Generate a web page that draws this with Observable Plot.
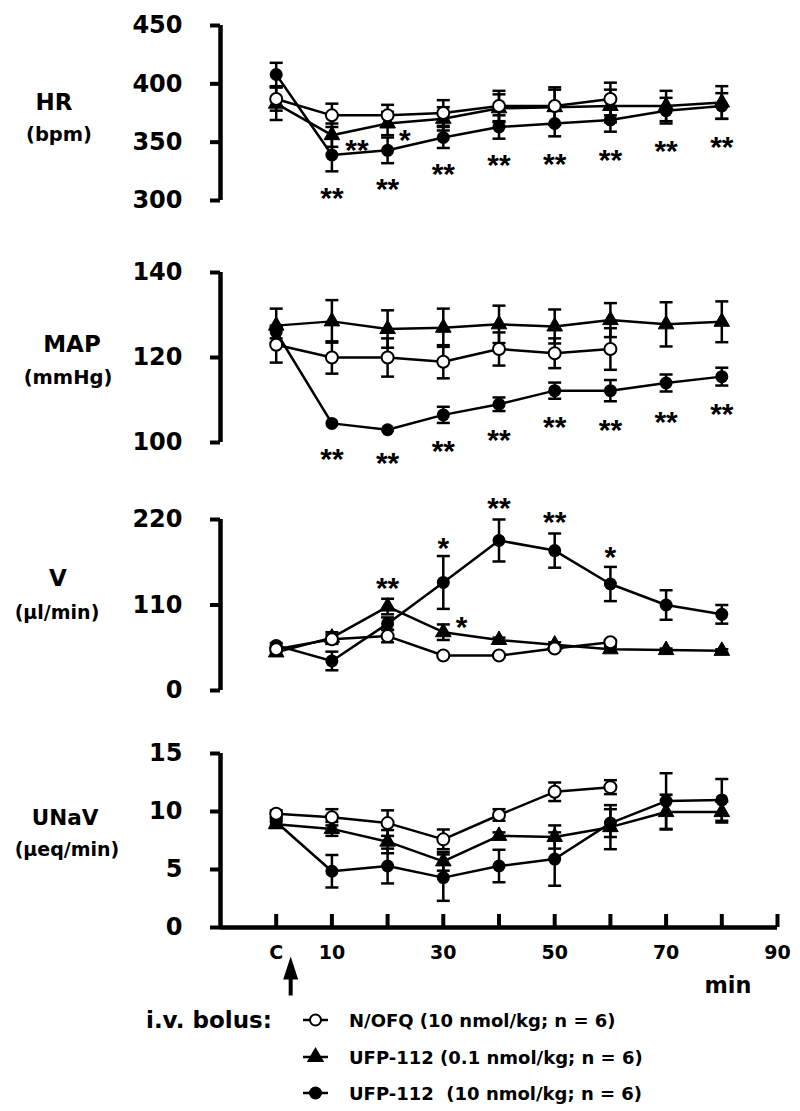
<!DOCTYPE html>
<html>
<head>
<meta charset="utf-8">
<script src="https://cdn.jsdelivr.net/npm/d3@7"></script>
<script src="https://cdn.jsdelivr.net/npm/@observablehq/plot@0.6"></script>
<style>
  body { margin: 0; background: #fff; }
  #chart { position: relative; width: 800px; height: 1111px; overflow: hidden; background: #fff; }
  #chart svg { position: absolute; left: 0; top: 0; }
</style>
</head>
<body>
<div id="chart"></div>
<script>
// ---------------- DATA ----------------
const times = [0, 10, 20, 30, 40, 50, 60, 70, 80];
const seriesKeys = ["nofq", "ufpLow", "ufpHigh"];
const legendLabels = ["N/OFQ (10 nmol/kg; n = 6)", "UFP-112 (0.1 nmol/kg; n = 6)", "UFP-112  (10 nmol/kg; n = 6)"];
const xTickValues = [0, 10, 20, 30, 40, 50, 60, 70, 80, 90];
const xLabelValues = [0, 10, 30, 50, 70, 90];
const xLabelText = ["C", "10", "30", "50", "70", "90"];
const xDomain = [-10, 90];
const bolusArrow = [{t: 2.6, level: 0}];

// HR (bpm)
const hrTicks = [300, 350, 400, 450];
const hrNofq = [387, 373, 373, 375, 381, 381, 387];
const hrNofqErr = [10, 10, 9, 11, 13, 16, 14];
const hrUfpLow = [383, 356, 366, 370, 379, 380, 381, 381, 384];
const hrUfpLowErr = [14, 10, 10, 10, 12, 15, 14, 13, 14];
const hrUfpHigh = [408, 339, 343, 354, 363, 366, 369, 377, 381];
const hrUfpHighErr = [10, 14, 11, 9, 10, 11, 10, 11, 11];
const hrStars = [
  {t: 10, y: 309, s: "**"}, {t: 14.5, y: 350, s: "**"}, {t: 20, y: 316, s: "**"},
  {t: 23.1, y: 358, s: "*"}, {t: 30, y: 329, s: "**"}, {t: 40, y: 337, s: "**"},
  {t: 50, y: 338, s: "**"}, {t: 60, y: 341, s: "**"}, {t: 70, y: 349, s: "**"}, {t: 80, y: 352, s: "**"}
];

// MAP (mmHg)
const mapTicks = [100, 120, 140];
const mapNofq = [123, 120, 120, 119, 122, 121, 122];
const mapNofqErr = [4.2, 3.8, 4.5, 3.9, 3.9, 3.5, 4.9];
const mapUfpLow = [127.5, 128.5, 126.7, 127, 127.8, 127.3, 128.8, 127.8, 128.4];
const mapUfpLowErr = [4, 5, 4.4, 4.5, 4.4, 4, 4, 5.2, 4.8];
const mapUfpHigh = [126, 104.5, 103, 106.5, 109, 112.2, 112.2, 114, 115.5];
const mapUfpHighErr = [1.5, 0, 0, 1.9, 1.6, 1.9, 2.5, 2, 2.1];
const mapStars = [
  {t: 10, y: 98, s: "**"}, {t: 20, y: 96.9, s: "**"}, {t: 30, y: 99.8, s: "**"}, {t: 40, y: 102.4, s: "**"},
  {t: 50, y: 105.5, s: "**"}, {t: 60, y: 104.7, s: "**"}, {t: 70, y: 106.7, s: "**"}, {t: 80, y: 108.4, s: "**"}
];

// V (µl/min)
const vTicks = [0, 110, 220];
const vNofq = [53, 66, 70, 45, 45, 54, 62];
const vNofqErr = [3, 6, 8, 2, 2, 3, 3];
const vUfpLow = [49, 68, 108, 75, 65, 59, 53, 52, 51];
const vUfpLowErr = [4, 7, 10, 10, 3, 3, 3, 2, 2];
const vUfpHigh = [58, 38, 86, 139, 193, 180, 137, 110, 98];
const vUfpHighErr = [3, 12, 8, 34, 27, 22, 22, 19, 12];
const vStars = [
  {t: 20, y: 142, s: "**"}, {t: 30, y: 193, s: "*"}, {t: 33.3, y: 92, s: "*"},
  {t: 40, y: 244, s: "**"}, {t: 50, y: 227, s: "**"}, {t: 60, y: 182, s: "*"}
];

// UNaV (µeq/min)
const uTicks = [0, 5, 10, 15];
const uNofq = [9.8, 9.5, 9.0, 7.6, 9.7, 11.7, 12.1];
const uNofqErr = [0.3, 0.7, 1.1, 0.85, 0.5, 0.8, 0.6];
const uUfpLow = [8.9, 8.5, 7.4, 5.7, 7.9, 7.8, 8.65, 9.95, 9.95];
const uUfpLowErr = [0.3, 0.6, 1.0, 0.8, 0.3, 1.0, 1.9, 1.5, 0.9];
const uUfpHigh = [9.1, 4.85, 5.3, 4.3, 5.3, 5.9, 9.0, 10.9, 11.0];
const uUfpHighErr = [0.3, 1.4, 1.5, 2.0, 1.4, 2.3, 1.2, 2.4, 1.8];
const uStars = [];

// ---------------- LAYOUT ----------------
const W = 800, H = 1111, ML = 220, MR = 23;
const FONT = "'DejaVu Sans', sans-serif";

function toRows(vals, errs, key) {
  return vals.map((v, i) => ({series: key, t: times[i], v, e: errs[i]}));
}

const panels = [
  {top: 25, bottom: 200, ticks: hrTicks, stars: hrStars,
   rows: [...toRows(hrNofq, hrNofqErr, "nofq"), ...toRows(hrUfpLow, hrUfpLowErr, "ufpLow"), ...toRows(hrUfpHigh, hrUfpHighErr, "ufpHigh")]},
  {top: 272, bottom: 442, ticks: mapTicks, stars: mapStars,
   rows: [...toRows(mapNofq, mapNofqErr, "nofq"), ...toRows(mapUfpLow, mapUfpLowErr, "ufpLow"), ...toRows(mapUfpHigh, mapUfpHighErr, "ufpHigh")]},
  {top: 519, bottom: 690, ticks: vTicks, stars: vStars,
   rows: [...toRows(vNofq, vNofqErr, "nofq"), ...toRows(vUfpLow, vUfpLowErr, "ufpLow"), ...toRows(vUfpHigh, vUfpHighErr, "ufpHigh")]},
  {top: 753, bottom: 927, ticks: uTicks, stars: uStars, bottomAxis: true,
   rows: [...toRows(uNofq, uNofqErr, "nofq"), ...toRows(uUfpLow, uUfpLowErr, "ufpLow"), ...toRows(uUfpHigh, uUfpHighErr, "ufpHigh")]}
];

const capSymbol = {
  draw(ctx, size) {
    const r = Math.sqrt(size / Math.PI);
    ctx.moveTo(-r, 0);
    ctx.lineTo(r, 0);
  }
};

const arrowShape = {
  draw(context, l, r) {
    const head = 23, half = 2;
    context.moveTo(-half, 0);
    context.lineTo(-half, head - l);
    context.lineTo(-r, head - l);
    context.lineTo(0, -l);
    context.lineTo(r, head - l);
    context.lineTo(half, head - l);
    context.lineTo(half, 0);
    context.closePath();
  }
};

function makePanel(p, shape) {
  const all = p.rows;
  const withErr = all.filter(d => d.e > 0);
  const domain = [d3.min(p.ticks), d3.max(p.ticks)];
  const marks = [
    Plot.ruleX(withErr, {x: "t", y1: d => d.v - d.e, y2: d => d.v + d.e, stroke: "black", strokeWidth: 2.5}),
    Plot.dot(withErr, {x: "t", y: d => d.v + d.e, symbol: capSymbol, r: 6.5, stroke: "black", strokeWidth: 2.5, fill: "none"}),
    Plot.dot(withErr, {x: "t", y: d => d.v - d.e, symbol: capSymbol, r: 6.5, stroke: "black", strokeWidth: 2.5, fill: "none"}),
    Plot.line(all, {x: "t", y: "v", z: "series", stroke: "black", strokeWidth: 2.5}),
    Plot.dot(all.filter(d => d.series === "ufpLow"), {x: "t", y: "v", symbol: "triangle", r: 5.8, fill: "black", stroke: "black", strokeWidth: 1}),
    Plot.dot(all.filter(d => d.series === "ufpHigh"), {x: "t", y: "v", r: 6.5, fill: "black", stroke: "none"}),
    Plot.dot(all.filter(d => d.series === "nofq"), {x: "t", y: "v", r: 6, fill: "white", stroke: "black", strokeWidth: 2}),
    Plot.text(p.stars, {x: "t", y: "y", text: "s", fontSize: 30, fontFamily: "'Liberation Sans', Arial, sans-serif", fontWeight: "bold", dy: 8}),
    Plot.ruleX([xDomain[0]], {stroke: "black", strokeWidth: 4.5}),
    Plot.axisY({ticks: p.ticks, tickSize: 10, tickPadding: 28, fontSize: 24, fontWeight: "bold", strokeWidth: 4, label: null})
  ];
  if (p.bottomAxis) {
    marks.push(
      Plot.ruleY([domain[0]], {stroke: "black", strokeWidth: 4.5}),
      Plot.tickX(xTickValues, {x: d => d, insetTop: (p.bottom - p.top) - 13, stroke: "black", strokeWidth: 4}),
      Plot.axisX({ticks: xLabelValues, tickFormat: d => xLabelText[xLabelValues.indexOf(d)], tickSize: 0, tickPadding: 18, fontSize: 19, fontWeight: "bold", label: null}),
      Plot.vector(bolusArrow, {x: "t", y: "level", length: 39, rotate: 0, anchor: "start", dy: 68, r: 7.5, shape, fill: "black", stroke: "none"})
    );
  }
  return Plot.plot({
    width: W, height: H,
    marginLeft: ML, marginRight: MR,
    marginTop: p.top, marginBottom: H - p.bottom,
    x: p.bottomAxis ? {domain: xDomain} : {domain: xDomain, axis: null},
    y: {domain, label: null},
    style: {fontFamily: FONT, fontWeight: "bold", background: "transparent", overflow: "visible", color: "black"},
    marks
  });
}

const chart = document.getElementById("chart");
for (const p of panels) {
  let svg;
  try { svg = makePanel(p, arrowShape); }
  catch (e) { svg = makePanel(p, "spike"); }
  chart.appendChild(svg);
}

// ---------------- TEXT OVERLAY (labels + legend) ----------------
const panelLabels = [
  {text: "HR", x: 54, y: 110, size: 23}, {text: "(bpm)", x: 59, y: 141, size: 19.5},
  {text: "MAP", x: 72, y: 352, size: 23}, {text: "(mmHg)", x: 68, y: 384, size: 19.5},
  {text: "V", x: 58, y: 586, size: 23}, {text: "(\u03bcl/min)", x: 57, y: 619, size: 19},
  {text: "UNaV", x: 65, y: 825, size: 21.5}, {text: "(\u03bceq/min)", x: 67, y: 856, size: 19},
  {text: "min", x: 728, y: 993, size: 22.4}
];

const overlay = d3.create("svg")
  .attr("width", W).attr("height", H)
  .attr("viewBox", `0 0 ${W} ${H}`)
  .style("font-family", FONT).style("font-weight", "bold");

overlay.selectAll("text.lab").data(panelLabels).join("text")
  .attr("class", "lab")
  .attr("x", d => d.x).attr("y", d => d.y)
  .attr("text-anchor", "middle")
  .attr("font-size", d => d.size)
  .attr("fill", "black")
  .text(d => d.text);

overlay.append("text").attr("x", 146).attr("y", 1028).attr("font-size", 23).attr("fill", "black").text("i.v. bolus:");

const legendY = [1020, 1057, 1093];
const lg = overlay.selectAll("g.leg").data(seriesKeys).join("g")
  .attr("class", "leg")
  .attr("transform", (d, i) => `translate(0,${legendY[i]})`);
lg.append("line").attr("x1", 303).attr("x2", 328).attr("y1", 0).attr("y2", 0).attr("stroke", "black").attr("stroke-width", 2.5);
lg.each(function (d) {
  const g = d3.select(this);
  if (d === "nofq") {
    g.append("circle").attr("cx", 315.5).attr("cy", 0).attr("r", 5.5).attr("fill", "white").attr("stroke", "black").attr("stroke-width", 2);
  } else if (d === "ufpLow") {
    g.append("path").attr("transform", "translate(315.5,0)").attr("d", d3.symbol(d3.symbolTriangle, Math.PI * 6.5 * 6.5)()).attr("fill", "black");
  } else {
    g.append("circle").attr("cx", 315.5).attr("cy", 0).attr("r", 6.5).attr("fill", "black");
  }
});
lg.append("text").attr("x", 349).attr("y", 7).attr("font-size", 18).attr("fill", "black")
  .attr("xml:space", "preserve").style("white-space", "pre")
  .text((d, i) => legendLabels[i]);

chart.appendChild(overlay.node());
</script>
</body>
</html>
